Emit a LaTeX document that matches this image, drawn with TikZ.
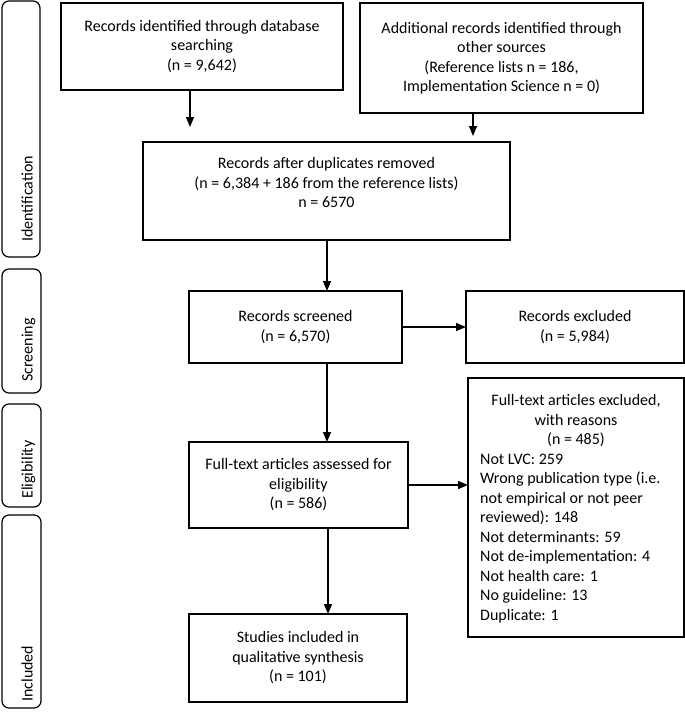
\documentclass[tikz,border=0pt]{standalone}
\usepackage{fontspec}
\setmainfont{Carlito}
\usetikzlibrary{arrows.meta}
\begin{document}
\begin{tikzpicture}[x=1pt,y=-1pt,
  box/.style={draw, line width=1.3pt, inner sep=0pt, outer sep=0pt, align=center, anchor=center},
  side/.style={draw, line width=1.2pt, rounded corners=7pt},
  sidetxt/.style={rotate=90, anchor=base west, inner sep=0pt},
  txt/.style={inner sep=0pt, align=center},
  arr/.style={line width=1.3pt, -{Triangle[length=10pt,width=8pt]}},
  every node/.style={font=\fontsize{16}{19.5}\selectfont}]
\useasboundingbox (0,0) rectangle (685,712);

% side labels
\draw[side] (2,1) rectangle (40,257);
\node[sidetxt] (l1) at (32.5,242) {Identification};
\draw[side] (2,269) rectangle (41,393);
\node[sidetxt] (l2) at (32.5,382) {Screening};
\draw[side] (2,404) rectangle (41,507);
\node[sidetxt] (l3) at (32.5,499) {Eligibility};
\draw[side] (2,515) rectangle (41,708);
\node[sidetxt] (l4) at (32.5,702) {Included};

% boxes
\node[box, minimum width=282pt, minimum height=87pt] (b1) at (202,46.5)
  {Records identified through database\\searching\\(n = 9,642)};
\node[box, minimum width=283pt, minimum height=110pt] (b2) at (501.5,58)
  {Additional records identified through\\other sources\\(Reference lists n = 186,\\Implementation Science n = 0)};
\node[box, minimum width=367pt, minimum height=98pt] (b3) at (326.5,191) {};
\node[txt] (b3t) at (326.5,183)
  {Records after duplicates removed\\(n = 6,384 + 186 from the reference lists)\\n = 6570};
\node[box, minimum width=213pt, minimum height=72pt] (b4) at (295.5,327)
  {Records screened\\(n = 6,570)};
\node[box, minimum width=218pt, minimum height=72pt] (b5) at (575,327)
  {Records excluded\\(n = 5,984)};
\node[box, minimum width=219pt, minimum height=86pt] (b6) at (298.5,485)
  {Full-text articles assessed for\\eligibility\\(n = 586)};
\node[box, minimum width=216pt, minimum height=259pt] (b7) at (576,507.5) {};
\node[txt] (b7h) at (576,421)
  {Full-text articles excluded,\\with reasons\\(n = 485)};
\node[txt, align=left, anchor=west] (b7t) at (480,538.5)
  {Not LVC: 259\\
   Wrong publication type (i.e.\\
   not empirical or not peer\\
   reviewed): 148\\
   Not determinants: 59\\
   Not de-implementation: 4\\
   Not health care: 1\\
   No guideline: 13\\
   Duplicate: 1};
\node[box, minimum width=218pt, minimum height=88pt] (b8) at (298,658)
  {Studies included in\\qualitative synthesis\\(n = 101)};

% connectors
\coordinate (c1) at (190,127);
\coordinate (c2) at (473,136);
\coordinate (m) at (327,0);
\coordinate (m2) at (328,0);
\draw[arr] (c1 |- b1.south) -- (c1);
\draw[arr] (c2 |- b2.south) -- (c2);
\draw[arr] (b3.south -| m) -- (b4.north -| m);
\draw[arr] (b4.east) -- (b5.west);
\draw[arr] (b4.south -| m) -- (b6.north -| m);
\draw[arr] (b6.east) -- (b6.east -| b7.west);
\draw[arr] (b6.south -| m2) -- (b8.north -| m2);
\end{tikzpicture}
\end{document}
